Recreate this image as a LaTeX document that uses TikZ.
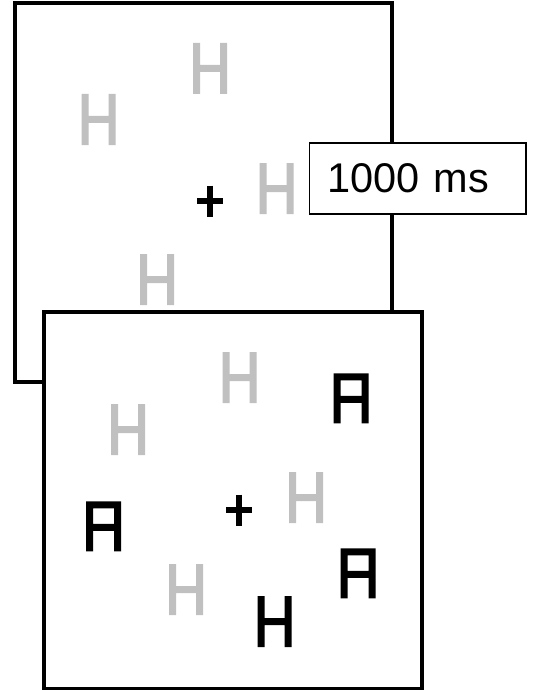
\documentclass[tikz,border=0pt]{standalone}
\usepackage{fontspec}
\setmainfont{Liberation Sans}
\usepackage{tikz}
\usetikzlibrary{positioning}
\definecolor{distcol}{RGB}{192,192,192}
\definecolor{targcol}{RGB}{0,0,0}

\begin{document}
\begin{tikzpicture}[
    x=1pt, y=-1pt,
    frame/.style={draw=black, fill=white, line width=4pt},
    timebox/.style={rectangle, draw=black, fill=white, line width=1.5pt,
                    minimum height=71pt, text width=180.5pt, inner xsep=18pt,
                    align=left, font=\fontsize{41.5}{48}\selectfont},
    fixcross/.pic={\draw[line width=5.5pt] (-13,0) -- (13,0) (0,-15.5) -- (0,15.5);},
    letH/.pic={\fill (-17,-25.5) rectangle (-10,25.5) (10,-25.5) rectangle (17,25.5)
                     (-10,-3.5) rectangle (10,3.5);},
    letA/.pic={\fill (-17.5,-25) rectangle (-10.5,25) (10.5,-25) rectangle (17.5,25)
                     (-10.5,-25) rectangle (10.5,-18) (-10.5,-2.5) rectangle (10.5,4.5);}
  ]
  \useasboundingbox (0,0) rectangle (535,690);

  % Fixation display
  \draw[frame] (14.5,3) rectangle (392,382);
  \pic[distcol] (h1) at (98.5,119.5) {letH};
  \pic[distcol] (h2) at (210,68.5) {letH};
  \pic[distcol] (h3) at (276.5,188.5) {letH};
  \pic[distcol] (h4) at (157,279.5) {letH};
  \pic (fix1) at (210,201) {fixcross};

  % Duration label
  \node[timebox] (dur) at (417.75,178.5) {1000 ms};

  % Search display
  \draw[frame] (43.5,312) rectangle (422,688.5);
  \pic[distcol] (h5) at (239.5,377.5) {letH};
  \pic[distcol] (h6) at (128,429.5) {letH};
  \pic[distcol] (h7) at (306,497.5) {letH};
  \pic[distcol] (h8) at (186,589.5) {letH};
  \pic[targcol] (h9) at (274.5,621.5) {letH};
  \pic[targcol] (a1) at (351,398.3) {letA};
  \pic[targcol] (a2) at (103.5,526.3) {letA};
  \pic[targcol] (a3) at (358,573.3) {letA};
  \pic (fix2) at (239,510) {fixcross};
\end{tikzpicture}
\end{document}
